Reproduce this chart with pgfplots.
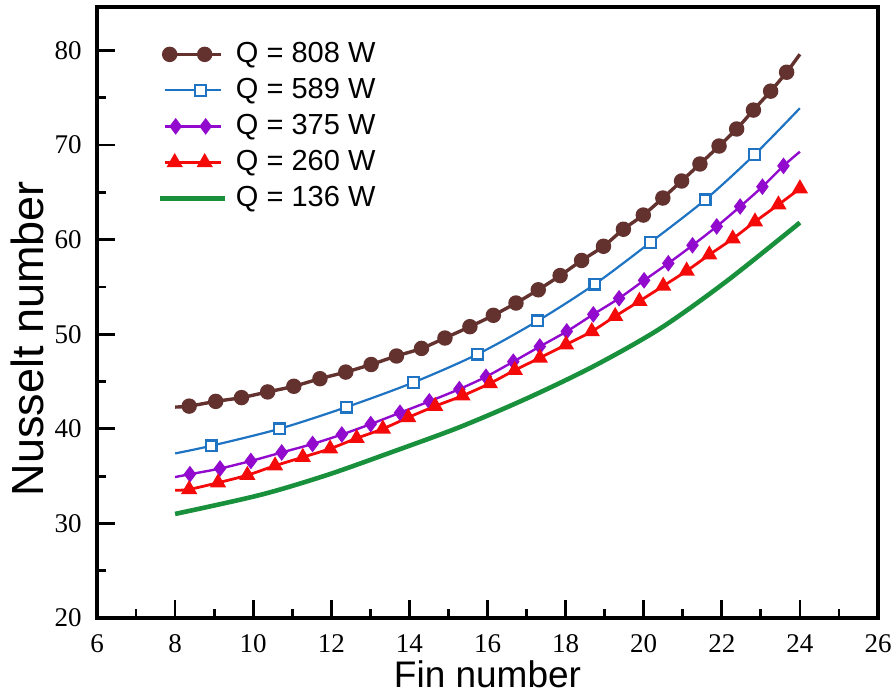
\documentclass[border=0pt]{standalone}
\usepackage{fontspec}
\setmainfont{Liberation Sans}
\newfontfamily\tickfont{Liberation Serif}
\usepackage{pgfplots}
\pgfplotsset{compat=1.18}
\definecolor{cbrown}{RGB}{99,50,47}
\definecolor{cblue}{RGB}{30,115,195}
\definecolor{cpurple}{RGB}{145,10,205}
\definecolor{cred}{RGB}{245,10,10}
\definecolor{cgreen}{RGB}{25,145,60}
\begin{document}
\begin{tikzpicture}
\path[use as bounding box] (-48.5pt,-38pt) rectangle (399.5pt,309pt);
\begin{axis}[
  scale only axis,
  width=390.5pt, height=305.5pt,
  xmin=6, xmax=26, ymin=20, ymax=84.6,
  xtick={6,8,...,26}, ytick={20,30,...,80},
  minor x tick num=1, minor y tick num=1,
  tick pos=left, tick align=inside,
  major tick length=9pt, minor tick length=4.5pt,
  every tick/.style={black, line width=1.4pt},
  axis line style={black, line width=1.7pt},
  /pgf/number format/assume math mode=true,
  ticklabel style={font=\tickfont\fontsize{13.5}{15}\selectfont, inner sep=0pt},
  xticklabel style={anchor=base, yshift=-17.5pt},
  yticklabel style={anchor=east, xshift=-7.5pt},
  xlabel={Fin number},
  ylabel={Nusselt number},
  xlabel style={font=\fontsize{18.5}{20}\selectfont, at={(axis description cs:0.5,0)}, anchor=base, yshift=-35pt, inner sep=0pt},
  ylabel style={font=\fontsize{22.5}{24}\selectfont, at={(axis description cs:-0.0896,0.457)}, anchor=center, rotate=0, inner sep=0pt},
  legend cell align=left,
  legend style={draw=none, fill=none, at={(axis description cs:0,1)}, anchor=north west,
    xshift=30pt, yshift=-16.5pt, inner sep=0pt, row sep=4pt,
    font=\fontsize{14.5}{16}\selectfont,
    nodes={inner sep=0pt, text height=11pt, text depth=3pt}},
]
\addplot[cbrown, line width=1.7pt, smooth, mark=*, mark size=3pt, mark options={solid, fill=cbrown},
  mark indices={2,...,29},
  legend image code/.code={\draw[mark indices={2,3}] plot coordinates {(2.5pt,0pt)(5pt,0pt)(22.5pt,0pt)(30.5pt,0pt)}; \path (37pt,0pt);}]
coordinates {
(8.0,42.3)(8.36,42.4)(9.04,42.9)(9.70,43.3)(10.37,43.9)(11.04,44.5)(11.71,45.3)(12.37,46.0)(13.02,46.8)(13.67,47.7)(14.31,48.5)(14.91,49.6)(15.55,50.8)(16.15,52.0)(16.73,53.3)(17.30,54.7)(17.86,56.2)(18.41,57.8)(18.97,59.3)(19.48,61.1)(19.99,62.6)(20.49,64.4)(20.97,66.2)(21.44,68.0)(21.93,69.9)(22.38,71.7)(22.81,73.7)(23.25,75.7)(23.66,77.7)(24.0,79.6)
};
\addlegendentry{Q = 808 W}
\addplot[cblue, line width=1.1pt, smooth, mark=square*, mark size=2.7pt, mark options={solid, fill=white, draw=cblue, line width=1.1pt},
  mark indices={2,...,11},
  legend image code/.code={\draw[mark indices={2}] plot coordinates {(2.5pt,0pt)(20.5pt,0pt)(30.5pt,0pt)}; \path (37pt,0pt);}]
coordinates {
(8.0,37.4)(8.92,38.2)(10.67,40.0)(12.39,42.3)(14.10,44.9)(15.75,47.9)(17.28,51.4)(18.75,55.3)(20.17,59.7)(21.57,64.2)(22.84,69.0)(24.0,73.9)
};
\addlegendentry{Q = 589 W}
\addplot[cpurple, line width=1.2pt, smooth, mark=diamond*, mark size=3.2pt, mark options={solid, fill=cpurple},
  mark indices={2,...,24},
  legend image code/.code={\draw[mark indices={2,3}] plot coordinates {(2.5pt,0pt)(8pt,0pt)(23pt,0pt)(30.5pt,0pt)}; \path (37pt,0pt);}]
coordinates {
(8.0,34.9)(8.38,35.2)(9.15,35.8)(9.94,36.6)(10.73,37.5)(11.52,38.4)(12.27,39.4)(13.01,40.5)(13.76,41.7)(14.51,42.9)(15.28,44.2)(15.96,45.5)(16.66,47.1)(17.34,48.7)(18.03,50.3)(18.71,52.1)(19.37,53.8)(20.01,55.7)(20.63,57.5)(21.25,59.4)(21.87,61.4)(22.47,63.5)(23.04,65.6)(23.58,67.8)(24.0,69.3)
};
\addlegendentry{Q = 375 W}
\addplot[cred, line width=1.4pt, smooth, mark=triangle*, mark size=3.3pt, mark options={solid, fill=cred},
  mark indices={2,...,26},
  legend image code/.code={\draw[mark indices={2,3}] plot coordinates {(2.5pt,0pt)(7.5pt,0pt)(22.5pt,0pt)(30.5pt,0pt)}; \path (37pt,0pt);}]
coordinates {
(8.0,33.5)(8.36,33.6)(9.10,34.3)(9.85,35.1)(10.56,36.1)(11.27,37.0)(11.97,37.9)(12.65,39.0)(13.32,40.0)(13.97,41.2)(14.66,42.4)(15.36,43.5)(16.06,44.8)(16.70,46.2)(17.34,47.5)(18.01,48.9)(18.67,50.3)(19.27,51.9)(19.89,53.5)(20.50,55.1)(21.10,56.7)(21.68,58.4)(22.28,60.1)(22.85,61.9)(23.45,63.7)(24.0,65.4)
};
\addlegendentry{Q = 260 W}
\addplot[cgreen, line width=2.3pt, smooth, no marks,
  legend image code/.code={\draw (0pt,0pt) -- (32.5pt,0pt); \path (37pt,0pt);}]
coordinates {
(8.0,31.0)(10.17,33.0)(11.88,35.1)(13.59,37.6)(15.30,40.2)(17.0,43.2)(18.71,46.6)(20.42,50.6)(22.12,55.6)(24.0,61.8)
};
\addlegendentry{Q = 136 W}
\end{axis}
\end{tikzpicture}
\end{document}
